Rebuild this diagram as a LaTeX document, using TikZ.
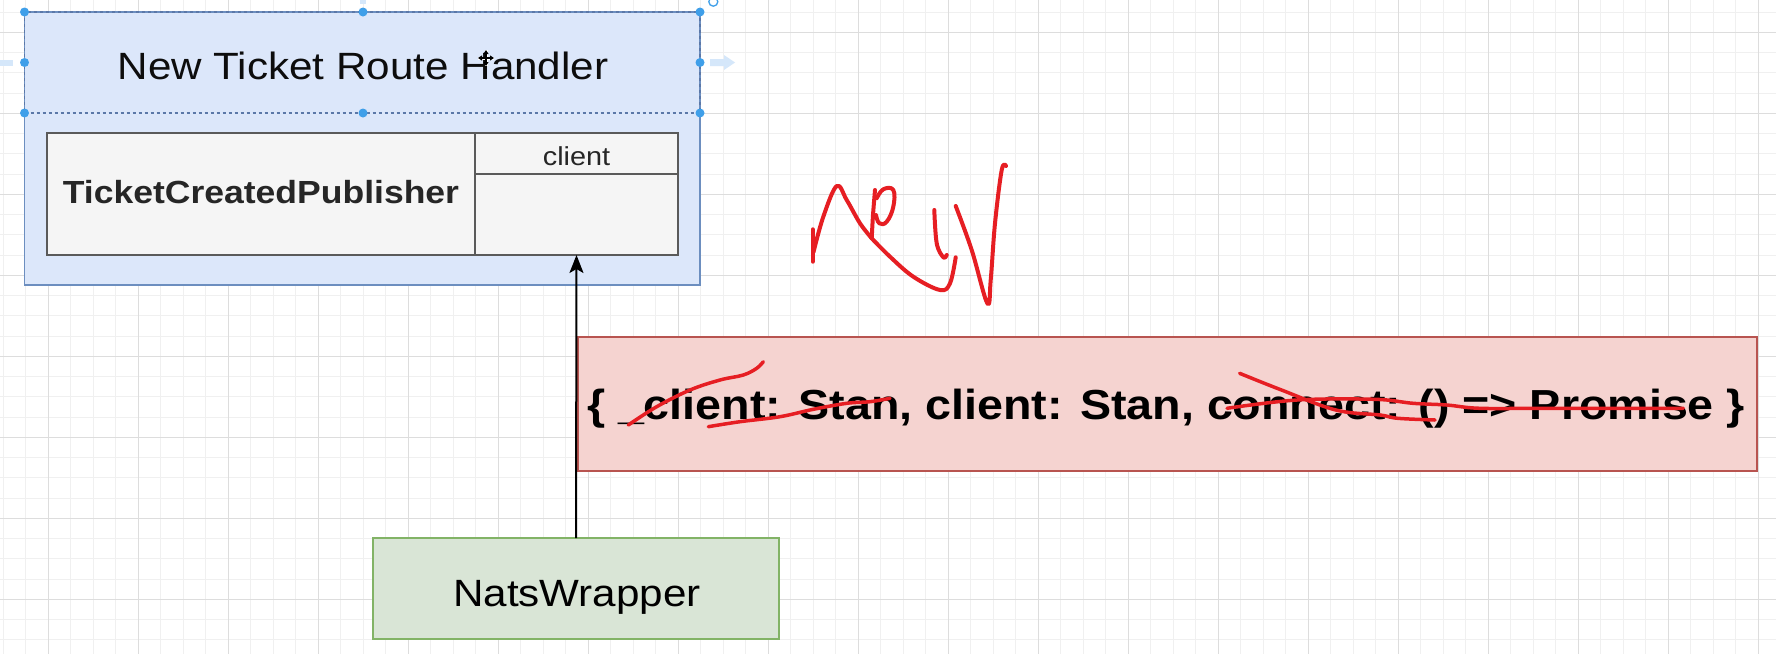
\documentclass[tikz,border=0pt]{standalone}
\usepackage{fontspec}
\setmainfont{Liberation Sans}[FakeStretch=1.11]
\usetikzlibrary{arrows.meta}
\definecolor{bluefill}{HTML}{DCE7FA}
\definecolor{bluedraw}{HTML}{6C8EBF}
\definecolor{tabfill}{HTML}{F5F5F5}
\definecolor{tabdraw}{HTML}{5A5A5A}
\definecolor{pinkfill}{HTML}{F5D3D0}
\definecolor{pinkdraw}{HTML}{B85450}
\definecolor{greenfill}{HTML}{D9E5D6}
\definecolor{greendraw}{HTML}{82B366}
\definecolor{handle}{HTML}{3F9FE9}
\definecolor{hoverarrow}{HTML}{D5E7FA}
\definecolor{ink}{HTML}{E61E23}
\definecolor{minorgrid}{HTML}{F0F0F0}
\definecolor{majorgrid}{HTML}{DDDDDD}
\definecolor{seldash}{HTML}{5B78A8}
\begin{document}
\begin{tikzpicture}[x=1pt,y=-1pt,
  cell/.style={draw, rectangle, inner sep=0pt, outer sep=0pt},
  bluebox/.style={cell, fill=bluefill, draw=bluedraw, line width=1.5pt},
  tabcell/.style={cell, fill=tabfill, draw=tabdraw, line width=2.5pt},
  pinkbox/.style={cell, fill=pinkfill, draw=pinkdraw, line width=1.5pt},
  greenbox/.style={cell, fill=greenfill, draw=greendraw, line width=1.5pt},
  txt/.style={anchor=base, inner sep=0pt, outer sep=0pt},
  handlept/.style={circle, fill=handle, inner sep=0pt, minimum size=9pt},
  redink/.style={draw=ink, line width=4pt, line cap=round, line join=round},
  conn/.style={draw=black, line width=2pt, -{Stealth[length=18pt, width=14pt, inset=4pt]}}
]
\useasboundingbox (0,0) rectangle (1776,654);
\begin{scope}
\clip (0,0) rectangle (1776,654);
\fill[white] (0,0) rectangle (1776,654);
% grid
\foreach \i in {0,...,78} {\draw[minorgrid, line width=1pt] ({3.3+22.5*\i},0) -- ++(0,654);}
\foreach \i in {0,...,31} {\draw[minorgrid, line width=1pt] (0,{12.05+20.25*\i}) -- ++(1776,0);}
\foreach \i in {0,...,19} {\draw[majorgrid, line width=1pt] ({48.3+90*\i},0) -- ++(0,654);}
\foreach \i in {0,...,7} {\draw[majorgrid, line width=1pt] (0,{32.3+81*\i}) -- ++(1776,0);}

% outer route handler box
\node[bluebox, minimum width=675.5pt, minimum height=273pt] (route) at (362.25,148.5) {};
% title cell (selected)
\node[cell, draw=seldash, dashed, line width=1.2pt, minimum width=675.5pt, minimum height=101pt] (titlecell) at (362.25,62.5) {};
\node[txt, font=\fontsize{38}{40}\selectfont, text=black!95] (title) at (363,79) {New Ticket Route Handler};

% publisher table
\node[tabcell, minimum width=428pt, minimum height=122pt] (namecell) at (261,194) {};
\node[tabcell, minimum width=203pt, minimum height=41pt] (headcell) at (576.5,153.5) {};
\node[tabcell, minimum width=203pt, minimum height=81pt] (fieldcell) at (576.5,214.5) {};
\node[txt, font=\fontsize{32}{34}\selectfont\bfseries, text=black!85] (pubname) at (261,203.3) {TicketCreatedPublisher};
\node[txt, font=\fontsize{26}{28}\selectfont, text=black!85] (clientlbl) at (576.5,165.7) {client};

% pink object box
\node[pinkbox, minimum width=1179pt, minimum height=134pt] (obj) at (1167.5,404) {};
\node[txt, font=\fontsize{42}{44}\selectfont\bfseries, text=black] (objtext) at (1166,419.3) {\{ \_client: Stan, client: Stan, connect: () => Promise \}};

% NatsWrapper
\node[greenbox, minimum width=406pt, minimum height=101pt] (nats) at (576,588.5) {};
\node[txt, font=\fontsize{38}{40}\selectfont, text=black] (natslbl) at (577,606) {NatsWrapper};

% connector
\draw[conn] (nats.north) -- (fieldcell.south);

% selection handles
\foreach \p/\n in {{(24.5,12)}/h1,{(363,12)}/h2,{(700,12)}/h3,{(24.5,62.5)}/h4,{(700,62.5)}/h5,{(24.5,113)}/h6,{(363,113)}/h7,{(700,113)}/h8}
  {\node[handlept] (\n) at \p {};}
\draw[handle, line width=1.3pt] (713.3,1.7) circle (4.5pt);
% hover arrows
\fill[hoverarrow] (710,59) -- (724,59) -- (724,55) -- (735,62.5) -- (724,70) -- (724,66) -- (710,66) -- cycle;
\fill[hoverarrow] (0,59.5) rectangle (13,65.5);
\fill[hoverarrow] (360,0) rectangle (366,4);

% move cursor
\begin{scope}[shift={(486,58)}]
\draw[white, line width=3pt] (-8,0) -- (8,0) (0,-8) -- (0,8);
\draw[black, line width=1.2pt, {Triangle[length=4pt,width=5pt]}-{Triangle[length=4pt,width=5pt]}] (-8,0) -- (8,0);
\draw[black, line width=1.2pt, {Triangle[length=4pt,width=5pt]}-{Triangle[length=4pt,width=5pt]}] (0,-8) -- (0,8);
\end{scope}

% handwritten "new"
\draw[redink] (812.7,229.3) -- (812.7,261.7);
\draw[redink] plot[smooth, tension=0.6] coordinates {(813.5,252) (823.3,216.7) (836.7,186) (846.7,200) (860,223.3) (871.7,238.3)};
\draw[redink] plot[smooth, tension=0.5] coordinates {(875,190) (873,215) (871.7,238.3)};
\draw[redink] plot[smooth, tension=0.7] coordinates {(876.7,198.3) (883.3,189.3) (893.3,190) (893.3,206.7) (886.7,221.7) (879.3,223.3) (876,215)};
\draw[redink] plot[smooth, tension=0.6] coordinates {(871.7,238.3) (890,256.7) (913.3,276.7) (940,290) (950,283.3) (955.7,257.3)};
\draw[redink] plot[smooth, tension=0.6] coordinates {(934.3,210) (936.7,243.3) (943.3,257.3) (946.7,255)};
\draw[redink] plot[smooth, tension=0.6] coordinates {(955.7,206) (971.7,250) (987.3,303.3) (990.7,280) (995,223.3) (1001.7,170) (1006,166)};

% strike-throughs
\draw[redink, line width=3.5pt] plot[smooth, tension=0.6] coordinates {(628.3,425) (656.7,406.7) (690,390) (720,380) (743.3,375) (756.7,368.3) (763.3,361.7)};
\draw[redink, line width=3.5pt] plot[smooth, tension=0.6] coordinates {(708.3,426.7) (740,421.7) (780,416.7) (813.3,409.3) (846.7,403.3) (870,401.7) (890,398.3)};
\draw[redink, line width=3.5pt] plot[smooth, tension=0.6] coordinates {(1239.6,373.3) (1281.5,390) (1335.8,410) (1380,415) (1397.9,418.3) (1435,420)};
\draw[redink, line width=3.5pt] plot[smooth, tension=0.6] coordinates {(1227,408.3) (1297,400) (1374.6,399.3) (1413,403.3) (1446.7,405) (1480,408.3) (1546.7,408.3) (1683.3,408.3)};
\end{scope}
\end{tikzpicture}
\end{document}
